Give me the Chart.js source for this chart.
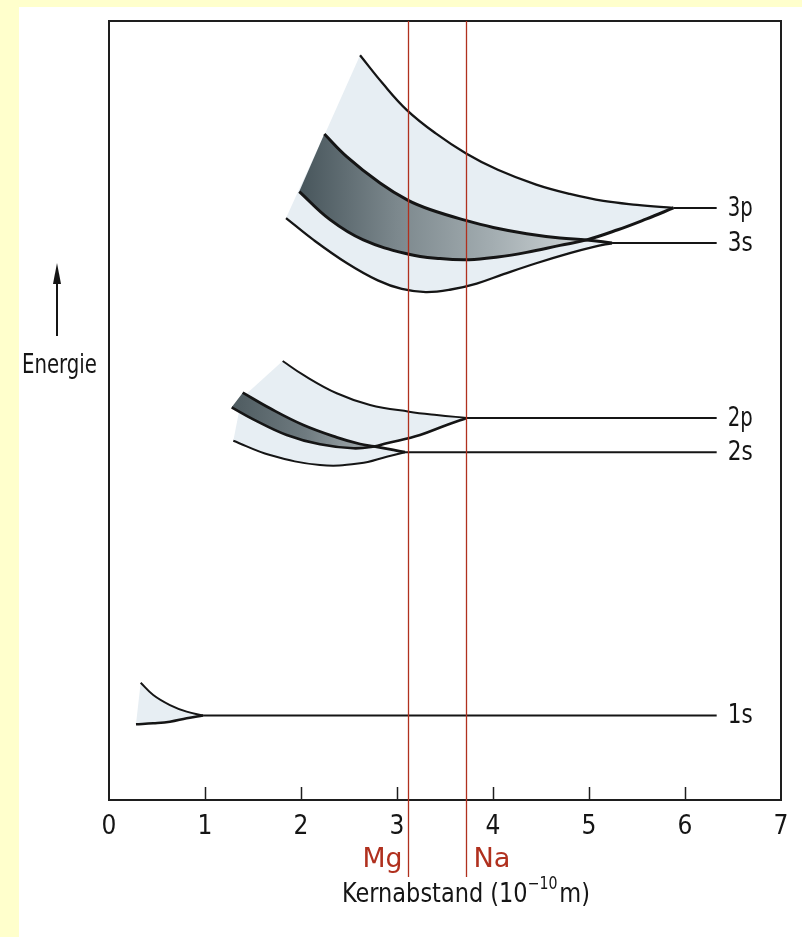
<!DOCTYPE html>
<html>
<head>
<meta charset="utf-8">
<script src="https://cdn.jsdelivr.net/npm/chart.js@4/dist/chart.umd.min.js"></script>
<style>
  html, body { margin: 0; padding: 0; background: #ffffcc; }
</style>
</head>
<body>
<canvas id="bands" width="802" height="937"></canvas>
<script>
"use strict";

// band edges, [Kernabstand, Energie] (energy in arbitrary units 0..100)
const curve1sUpper = [[0.33, 15.06], [0.461, 13.48], [0.635, 12.19], [0.809, 11.34], [0.98, 10.85]];
const curve1sLower = [[0.281, 9.72], [0.461, 9.85], [0.635, 10.05], [0.809, 10.49], [0.98, 10.85]];

const curve2pUpper = [[1.809, 56.35], [2.024, 54.56], [2.372, 52.21], [2.719, 50.71], [3.125, 49.85], [3.414, 49.42], [3.726, 49.05]];
const curve2pLower = [[1.278, 50.41], [1.503, 48.87], [1.851, 46.86], [2.198, 45.66], [2.545, 45.15], [2.76, 45.38], [2.893, 45.79], [3.24, 46.86], [3.518, 48.14], [3.726, 49.05]];
const curve2sUpper = [[1.393, 52.29], [1.677, 50.28], [2.024, 48.14], [2.372, 46.56], [2.615, 45.7], [2.76, 45.38], [2.961, 44.93], [3.083, 44.65]];
const curve2sLower = [[1.295, 46.12], [1.677, 44.29], [2.198, 43.0], [2.615, 43.22], [2.893, 44.07], [3.083, 44.65]];

const curve3pUpper = [[2.615, 95.6], [2.85, 92.0], [3.10, 88.6], [3.40, 85.6], [3.72, 83.0], [4.05, 80.9], [4.45, 79.0], [4.80, 77.8], [5.15, 76.9], [5.50, 76.4], [5.88, 76.0]];
const curve3pLower = [[1.982, 78.1], [2.302, 74.5], [2.649, 71.9], [3.111, 70.1], [3.448, 69.5], [3.75, 69.35], [4.05, 69.7], [4.351, 70.3], [4.698, 71.2], [4.976, 71.9], [5.30, 73.2], [5.60, 74.6], [5.88, 76.0]];
const curve3sUpper = [[2.243, 85.5], [2.476, 82.6], [2.823, 79.2], [3.111, 77.0], [3.344, 75.8], [3.716, 74.4], [4.003, 73.5], [4.351, 72.7], [4.698, 72.15], [4.976, 71.9], [5.24, 71.5]];
const curve3sLower = [[1.844, 74.7], [2.13, 71.9], [2.48, 68.9], [2.80, 66.7], [3.05, 65.6], [3.30, 65.2], [3.55, 65.5], [3.83, 66.3], [4.11, 67.5], [4.45, 68.9], [4.80, 70.2], [5.05, 71.0], [5.24, 71.5]];

// where the s and p bands stop overlapping
const overlapEnd2 = 2.76;
const overlapEnd3 = 4.976;

// atomic levels on the right
const levelNames = ["1s", "2s", "2p", "3s", "3p"];
const levelEnergy = [10.85, 44.65, 49.05, 71.5, 76.0];
const levelStart = [0.98, 3.083, 3.726, 5.24, 5.88];
const levelEnd = 6.33;

// lattice distances
const markerNames = ["Mg", "Na"];
const markerX = [3.11, 3.72];

const xTicks = [0, 1, 2, 3, 4, 5, 6, 7];

const INK = "#151515";
const RED = "#b0301e";
const LIGHT = "#e7eef3";
const FONT = "'DejaVu Sans Condensed', 'DejaVu Sans', sans-serif";
const FS = 27;

const pts = arr => arr.map(([x, y]) => ({ x, y }));
const rev = arr => arr.slice().reverse();
const upTo = (arr, lim) => arr.filter(p => p[0] <= lim);

function lineSet(arr, width) {
  return {
    data: pts(arr), borderColor: INK, borderWidth: width,
    pointRadius: 0, tension: 0.4, fill: false, order: 1
  };
}

function areaSet(arr, color, order) {
  return {
    data: pts(arr), borderWidth: 0, borderColor: "rgba(0,0,0,0)",
    backgroundColor: color, pointRadius: 0, tension: 0.4, fill: "shape", order: order
  };
}

// grey shading of the overlap, darker on the left
function darkShade(from, to, stops) {
  return function (c) {
    const chart = c.chart;
    if (!chart.chartArea) return "#7d898e";
    const xs = chart.scales.x;
    const g = chart.ctx.createLinearGradient(xs.getPixelForValue(from), 0, xs.getPixelForValue(to), 0);
    stops.forEach((s, i) => g.addColorStop(i / (stops.length - 1), s));
    return g;
  };
}

const datasets = [
  areaSet(curve1sUpper.concat(rev(curve1sLower)), LIGHT, 3),
  areaSet(curve2pUpper.concat(rev(curve2pLower)), LIGHT, 3),
  areaSet(curve2sUpper.concat(rev(curve2sLower)), LIGHT, 3),
  areaSet(curve3pUpper.concat(rev(curve3pLower)), LIGHT, 3),
  areaSet(curve3sUpper.concat(rev(curve3sLower)), LIGHT, 3),
  areaSet(upTo(curve2sUpper, overlapEnd2).concat(rev(upTo(curve2pLower, overlapEnd2))),
    darkShade(1.3, 2.8, ["#4f5c61", "#6f7b80", "#a9b1b4"]), 2),
  areaSet(upTo(curve3sUpper, overlapEnd3).concat(rev(upTo(curve3pLower, overlapEnd3))),
    darkShade(2.0, 5.0, ["#48565c", "#7c888d", "#a3adb1", "#d0d6d8"]), 2),
  lineSet(curve1sUpper, 2), lineSet(curve1sLower, 2.5),
  lineSet(curve2pUpper, 2), lineSet(curve2pLower, 2.6),
  lineSet(curve2sUpper, 2.8), lineSet(curve2sLower, 2),
  lineSet(curve3pUpper, 2.3), lineSet(curve3pLower, 3),
  lineSet(curve3sUpper, 3), lineSet(curve3sLower, 2.3)
];
levelNames.forEach((n, i) => {
  datasets.push(lineSet([[levelStart[i], levelEnergy[i]], [levelEnd, levelEnergy[i]]], 2));
});

// text squeezed to a given width (the original lettering is a narrow DIN face)
function squeeze(ctx, parts, left, y, width) {
  let natural = 0;
  parts.forEach(p => {
    ctx.font = p.size + "px " + FONT;
    p.w = ctx.measureText(p.text).width;
    natural += p.w + (p.gap || 0);
  });
  ctx.save();
  ctx.translate(left, y);
  ctx.scale(width / natural, 1);
  ctx.textAlign = "left";
  ctx.textBaseline = "middle";
  let x = 0;
  parts.forEach(p => {
    ctx.font = p.size + "px " + FONT;
    ctx.fillText(p.text, x, p.dy || 0);
    x += p.w + (p.gap || 0);
  });
  ctx.restore();
}

const decor = {
  id: "decor",
  beforeDraw(chart) {
    const ctx = chart.ctx;
    ctx.save();
    ctx.fillStyle = "#ffffcc";
    ctx.fillRect(0, 0, chart.width, chart.height);
    ctx.fillStyle = "#ffffff";
    ctx.fillRect(19, 7, chart.width - 19, chart.height - 7);
    ctx.restore();
  },
  afterDatasetsDraw(chart) {
    const ctx = chart.ctx;
    const a = chart.chartArea;
    const xs = chart.scales.x, ys = chart.scales.y;
    ctx.save();

    // frame and inner ticks
    ctx.strokeStyle = "#1e1e1e";
    ctx.lineWidth = 2;
    ctx.strokeRect(a.left, a.top, a.right - a.left, a.bottom - a.top);
    ctx.lineWidth = 1.5;
    xTicks.slice(1, -1).forEach(v => {
      const px = Math.round(xs.getPixelForValue(v)) + 0.5;
      ctx.beginPath();
      ctx.moveTo(px, a.bottom);
      ctx.lineTo(px, a.bottom - 13);
      ctx.stroke();
    });

    // Mg / Na
    ctx.strokeStyle = RED;
    ctx.fillStyle = RED;
    ctx.lineWidth = 1.3;
    markerNames.forEach((n, i) => {
      const px = Math.round(xs.getPixelForValue(markerX[i])) + 0.5;
      ctx.beginPath();
      ctx.moveTo(px, a.top);
      ctx.lineTo(px, a.bottom + 77);
      ctx.stroke();
      if (i === 0) squeeze(ctx, [{ text: n, size: FS }], px - 46, a.bottom + 60, 40);
      else squeeze(ctx, [{ text: n, size: FS }], px + 7, a.bottom + 60, 37);
    });

    // level names
    ctx.fillStyle = INK;
    levelNames.forEach((n, i) => {
      squeeze(ctx, [{ text: n, size: FS }], xs.getPixelForValue(levelEnd) + 11,
        ys.getPixelForValue(levelEnergy[i]) + 1, 25);
    });

    // axis title with superscript
    squeeze(ctx, [
      { text: "Kernabstand (10", size: FS },
      { text: "\u221210", size: 17, dy: -10, gap: 2 },
      { text: "m)", size: FS }
    ], 342, a.bottom + 95, 248);

    // Energie arrow
    ctx.strokeStyle = INK;
    ctx.lineWidth = 2;
    ctx.beginPath();
    ctx.moveTo(57, 336);
    ctx.lineTo(57, 278);
    ctx.stroke();
    ctx.beginPath();
    ctx.moveTo(57, 263);
    ctx.lineTo(61, 284);
    ctx.lineTo(53, 284);
    ctx.closePath();
    ctx.fill();
    squeeze(ctx, [{ text: "Energie", size: FS }], 22, 366, 75);
    ctx.restore();
  }
};

new Chart(document.getElementById("bands"), {
  type: "line",
  data: { datasets: datasets },
  options: {
    responsive: false,
    animation: false,
    events: [],
    layout: { padding: { left: 109, right: 21, top: 21, bottom: 0 } },
    plugins: { legend: { display: false }, tooltip: { enabled: false } },
    scales: {
      x: {
        type: "linear", min: 0, max: 7,
        afterFit: s => { s.height = 137; },
        border: { display: false },
        grid: { display: false, drawTicks: false },
        ticks: { stepSize: 1, padding: 12, color: INK, font: { size: 26, family: FONT } }
      },
      y: { type: "linear", min: 0, max: 100, display: false }
    }
  },
  plugins: [decor]
});
</script>
</body>
</html>
